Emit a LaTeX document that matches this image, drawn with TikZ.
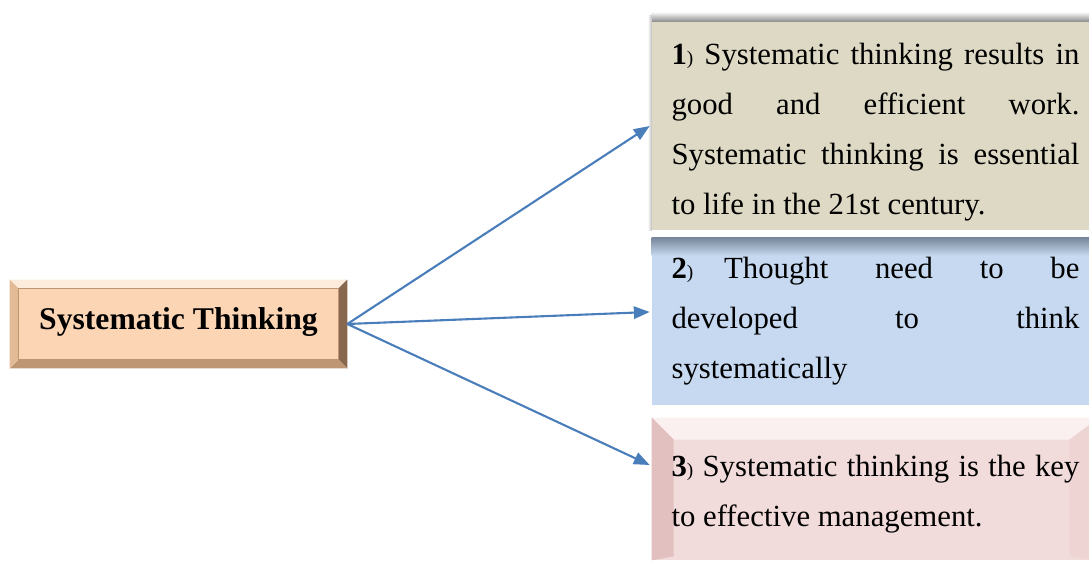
\documentclass[tikz,border=0pt]{standalone}
\usepackage{fontspec}
\setmainfont{Liberation Serif}
\usetikzlibrary{arrows.meta,calc,backgrounds}

\definecolor{peach}{RGB}{252,213,181}
\definecolor{peachlight}{RGB}{253,236,220}
\definecolor{peachmid}{RGB}{226,186,150}
\definecolor{peachdark}{RGB}{190,150,115}
\definecolor{peachdeep}{RGB}{135,104,78}
\definecolor{tan}{RGB}{221,217,196}
\definecolor{paleblue}{RGB}{198,217,240}
\definecolor{shadeblue}{RGB}{120,135,155}
\definecolor{pink}{RGB}{242,220,219}
\definecolor{pinklight}{RGB}{250,240,240}
\definecolor{pinkdark}{RGB}{226,192,191}
\definecolor{pinkmid}{RGB}{238,212,211}
\definecolor{linkblue}{RGB}{74,126,187}

\newcommand{\itemno}[1]{\textbf{#1}{\fontsize{11}{11}\selectfont )}}

\tikzset{
  idea/.style={minimum width=8.94cm, text width=8.16cm, inner xsep=0pt,
               align=justify, font=\fontsize{17.5}{28.5}\selectfont},
  link/.style={draw=linkblue, line width=1.2pt, -{Triangle[length=9pt,width=7pt]}}
}

\begin{document}
\begin{tikzpicture}[x=0.02cm, y=-0.02cm]
  \useasboundingbox (0,0) rectangle (1089,563);

  % main topic
  \node[minimum width=6.74cm, minimum height=1.76cm, font=\fontsize{18}{20}\selectfont\bfseries]
       (centre) at (178.5,324) {\raisebox{0.22cm}{Systematic Thinking}};

  % the three statements
  \node[idea, minimum height=4.16cm] (idea1) at (875.5,126)
       {\rule{0pt}{19pt}\itemno{1} Systematic thinking results in\linebreak good and efficient work.\linebreak
        Systematic thinking is essential\linebreak to life in the 21st century.};
  \node[idea, minimum height=3.34cm] (idea2) at (875.5,321.5)
       {\itemno{2}\quad Thought need to be\linebreak developed to think\linebreak systematically};
  \node[idea, minimum height=2.84cm] (idea3) at (875.5,489)
       {\rule{0pt}{18pt}\itemno{3} Systematic thinking is the key\linebreak to effective management.};

  \begin{scope}[on background layer]
    \clip (0,0) rectangle (1089,563);
    % bevelled frame of the main topic
    \fill[peachlight] (centre.north west) -- (centre.north east) -- ($(centre.north east)+(-9,9)$)
         -- ($(centre.north west)+(9,9)$) -- cycle;
    \fill[peachdeep] (centre.north east) -- (centre.south east) -- ($(centre.south east)+(-9,-9)$)
         -- ($(centre.north east)+(-9,9)$) -- cycle;
    \fill[peachdark] (centre.south east) -- (centre.south west) -- ($(centre.south west)+(9,-9)$)
         -- ($(centre.south east)+(-9,-9)$) -- cycle;
    \fill[peachmid] (centre.south west) -- (centre.north west) -- ($(centre.north west)+(9,9)$)
         -- ($(centre.south west)+(9,-9)$) -- cycle;
    \fill[peach, draw=peachdark, line width=0.6pt] ($(centre.north west)+(9,9)$)
         rectangle ($(centre.south east)+(-9,-9)$);

    % statement 1
    \shade[top color=white, bottom color=black!45] ($(idea1.north west)+(0,-10)$)
         rectangle (idea1.north east);
    \shade[left color=white, right color=black!25] ($(idea1.north west)+(-4,-6)$)
         rectangle (idea1.south west);
    \fill[tan] (idea1.north west) rectangle (idea1.south east);

    % statement 2
    \fill[paleblue] (idea2.north west) rectangle (idea2.south east);
    \shade[top color=shadeblue, bottom color=paleblue] (idea2.north west)
         rectangle ($(idea2.north east)+(0,18)$);

    % statement 3
    \fill[pink] (idea3.north west) rectangle (idea3.south east);
    \fill[pinklight] (idea3.north west) -- (idea3.north east) -- ($(idea3.north east)+(-30,22)$)
         -- ($(idea3.north west)+(22,22)$) -- cycle;
    \fill[pinkdark] (idea3.north west) -- ($(idea3.north west)+(22,22)$)
         -- ($(idea3.south west)+(22,-4)$) -- (idea3.south west) -- cycle;
    \fill[pinkmid] (idea3.north east) -- ($(idea3.north east)+(-30,22)$)
         -- ($(idea3.south east)+(-30,-4)$) -- (idea3.south east) -- cycle;
  \end{scope}

  % arrows
  \draw[link] (centre.east) -- ([xshift=-0.04cm]idea1.west);
  \draw[link] (centre.east) -- ([xshift=-0.04cm, yshift=0.19cm]idea2.west);
  \draw[link] (centre.east) -- ([xshift=-0.04cm, yshift=0.48cm]idea3.west);
\end{tikzpicture}
\end{document}
